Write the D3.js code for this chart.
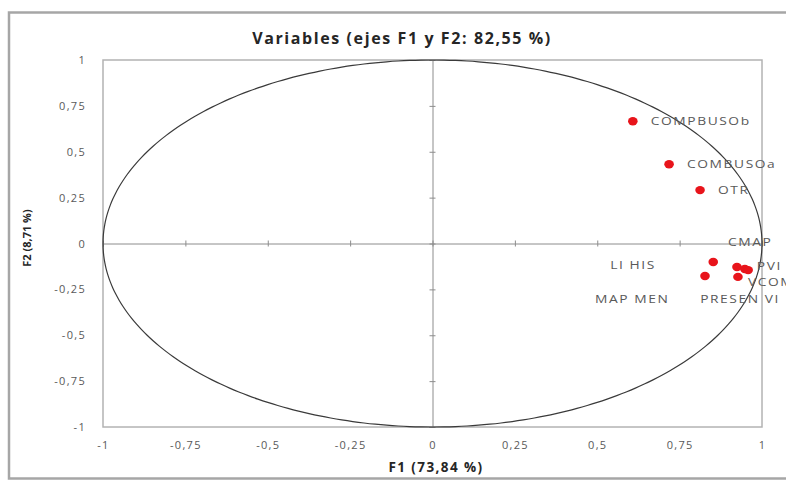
<!DOCTYPE html>
<html>
<head>
<meta charset="utf-8">
<script src="https://cdn.jsdelivr.net/npm/d3@7"></script>
<style>
  body { margin: 0; background: #fff; }
  #chart { width: 786px; height: 482px; }
  text { font-family: "Open Sans", sans-serif; }
</style>
</head>
<body>
<div id="chart"></div>
<script>
//Datos
const variables = ['COMPBUSOb', 'COMBUSOa', 'OTR', 'CMAP', 'LI HIS', 'PVI', 'VCOM', 'MAP MEN', 'PRESEN VI'];
const valoresF1 = [0.608, 0.718, 0.812, 0.924, 0.852, 0.948, 0.927, 0.827, 0.958];
const valoresF2 = [0.666, 0.432, 0.291, -0.128, -0.101, -0.139, -0.182, -0.177, -0.145];
const ticks = [-1, -0.75, -0.5, -0.25, 0, 0.25, 0.5, 0.75, 1];

//Desplazamiento de etiquetas (px), como quedaron en el original
const labelDx = [18, 18, 18, -9, -103, 12, 10, -110, -48];
const labelDy = [0, 0, 0, -25, 3, -3, 5, 23, 29];

let margin = {top: 60, right: 24, bottom: 55, left: 103},
    width = 786 - margin.left - margin.right,
    height = 482 - margin.top - margin.bottom;

let root = d3.select('#chart')
    .append('svg')
    .attr('width', 786)
    .attr('height', 482);

//Marco exterior
root.append('rect')
    .attr('x', 9).attr('y', 12.5)
    .attr('width', 800).attr('height', 466)
    .attr('fill', 'none')
    .attr('stroke', '#a6a6a6')
    .attr('stroke-width', 2.5);

let svg = root.append('g')
    .attr('transform', 'translate(' + margin.left + ',' + margin.top + ')');

let x = d3.scaleLinear().domain([-1, 1]).range([0, width]);
let y = d3.scaleLinear().domain([-1, 1]).range([height, 0]);
let fmt = function(d) { return String(d).replace('.', ','); };

//Area del grafico
svg.append('rect')
    .attr('x', 0).attr('y', 0)
    .attr('width', width).attr('height', height)
    .attr('fill', 'none')
    .attr('stroke', '#b3b3b3')
    .attr('stroke-width', 1.5);

//Ejes en el cero
svg.append('g')
    .attr('transform', 'translate(0,' + y(0) + ')')
    .call(d3.axisBottom(x).tickValues(ticks).tickSize(3).tickFormat(''))
    .call(function(g) { g.selectAll('.tick line').attr('y1', -3); })
    .call(function(g) { g.selectAll('line, path').attr('stroke', '#8c8c8c'); });

svg.append('g')
    .attr('transform', 'translate(' + x(0) + ',0)')
    .call(d3.axisLeft(y).tickValues(ticks).tickSize(3).tickFormat(''))
    .call(function(g) { g.selectAll('.tick line').attr('x1', 3); })
    .call(function(g) { g.selectAll('line, path').attr('stroke', '#8c8c8c'); });

//Etiquetas de los ejes (abajo e izquierda)
let xLabels = svg.append('g')
    .attr('transform', 'translate(0,' + height + ')')
    .call(d3.axisBottom(x).tickValues(ticks).tickSize(0).tickPadding(14).tickFormat(fmt));
xLabels.select('.domain').remove();

let yLabels = svg.append('g')
    .call(d3.axisLeft(y).tickValues(ticks).tickSize(0).tickPadding(17).tickFormat(fmt));
yLabels.select('.domain').remove();

svg.selectAll('.tick text')
    .attr('fill', '#595959')
    .style('font-size', '11px')
    .style('letter-spacing', '1.3px')
    .style('font-family', '"Open Sans", sans-serif');

//Circulo de correlaciones
let angles = d3.range(0, 360, 2);
let circle = d3.line()
    .x(function(a) { return x(Math.cos(a * Math.PI / 180)); })
    .y(function(a) { return y(Math.sin(a * Math.PI / 180)); })
    .curve(d3.curveCardinalClosed);

svg.append('path')
    .datum(angles)
    .attr('d', circle)
    .attr('fill', 'none')
    .attr('stroke', '#3a3a3a')
    .attr('stroke-width', 1.2);

//Puntos
svg.selectAll('.punto')
    .data(variables)
    .enter()
    .append('ellipse')
    .attr('class', 'punto')
    .attr('cx', function(d, i) { return x(valoresF1[i]); })
    .attr('cy', function(d, i) { return y(valoresF2[i]); })
    .attr('rx', 4.8)
    .attr('ry', 4.2)
    .attr('fill', '#e8141b');

//Etiquetas (algo estiradas en horizontal como en el original)
svg.selectAll('.etiqueta')
    .data(variables)
    .enter()
    .append('text')
    .attr('class', 'etiqueta')
    .attr('transform', function(d, i) {
        return 'translate(' + (x(valoresF1[i]) + labelDx[i]) + ',' + (y(valoresF2[i]) + labelDy[i]) + ') scale(1.2,1)';
    })
    .attr('dy', '0.35em')
    .attr('fill', '#595959')
    .style('font-size', '11.5px')
    .style('letter-spacing', '1.3px')
    .text(function(d) { return d; });

//Titulos
root.append('text')
    .attr('x', 402).attr('y', 44)
    .attr('text-anchor', 'middle')
    .attr('fill', '#262626')
    .style('font-size', '16px')
    .style('font-weight', 'bold')
    .style('letter-spacing', '1.6px')
    .text('Variables (ejes F1 y F2: 82,55 %)');

root.append('text')
    .attr('x', 436).attr('y', 472)
    .attr('text-anchor', 'middle')
    .attr('fill', '#262626')
    .style('font-size', '13.5px')
    .style('font-weight', 'bold')
    .style('letter-spacing', '1.4px')
    .text('F1 (73,84 %)');

root.append('text')
    .attr('transform', 'translate(31,238) rotate(-90)')
    .attr('text-anchor', 'middle')
    .attr('fill', '#262626')
    .style('font-size', '11px')
    .style('font-weight', 'bold')
    .text('F2 (8,71 %)');
</script>
</body>
</html>
